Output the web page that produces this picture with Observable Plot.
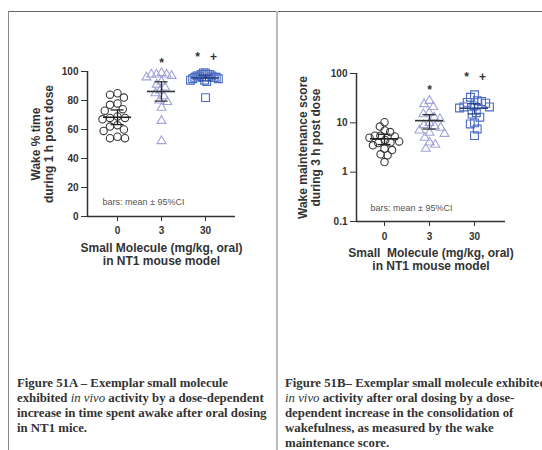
<!DOCTYPE html>
<html><head><meta charset="utf-8">
<script src="https://cdn.jsdelivr.net/npm/d3@7"></script>
<script src="https://cdn.jsdelivr.net/npm/@observablehq/plot@0.6"></script>
<style>
html,body{margin:0;padding:0;background:#fff;}
#page{position:relative;width:542px;height:450px;overflow:hidden;background:#fff;}
.ln{position:absolute;z-index:5;}
.cap{position:absolute;font-family:"Liberation Serif","Times New Roman",serif;font-weight:bold;font-size:12.8px;line-height:15px;color:#333;white-space:nowrap;}
.cap i{font-weight:normal;}
.chart{position:absolute;top:0;}
</style></head>
<body>
<div id="page">
  <div class="ln" style="left:8px;top:11px;width:534px;height:1px;background:#666"></div>
  <div class="ln" style="left:8px;top:11px;width:1px;height:439px;background:#888"></div>
  <div class="ln" style="left:276px;top:11px;width:2px;height:439px;background:#bbb"></div>
  <div id="chartA" class="chart" style="left:0;width:276px"></div>
  <div id="chartB" class="chart" style="left:276px;width:266px"></div>
  <div class="cap" style="left:17px;top:376px">Figure 51A – Exemplar small molecule<br>exhibited <i>in vivo</i> activity by a dose-dependent<br>increase in time spent awake after oral dosing<br>in NT1 mice.</div>
  <div class="cap" style="left:285px;top:376px">Figure 51B– Exemplar small molecule exhibited<br><i>in vivo</i> activity after oral dosing by a dose-<br>dependent increase in the consolidation of<br>wakefulness, as measured by the wake<br>maintenance score.</div>
</div>
<script>
// ---------- data ----------
const doses = ["0", "3", "30"];
// Panel A: Wake % time during 1 h post dose
const wakeTime0  = [85, 84, 82, 78, 77, 74, 73, 69, 68, 68, 67, 63, 62, 60, 59, 55, 54, 54];
const wakeTime3  = [99, 98, 98, 98, 97, 96, 93, 91, 89, 87, 85, 83, 80, 79, 75, 66, 52];
const wakeTime30 = [99, 99, 98, 98, 98, 97, 97, 97, 96, 96, 96, 95, 95, 94, 94, 93, 82];
// Panel B: Wake maintenance score during 3 h post dose
const wms0  = [10.3, 8.4, 7.0, 6.5, 5.5, 5.5, 5.3, 5.0, 4.5, 4.2, 4.0, 3.9, 3.5, 3.0, 2.8, 2.3, 2.2, 1.6];
const wms3  = [28, 24, 21, 16, 15, 13, 12, 10, 9, 8.5, 8, 7, 6.3, 6, 5, 4, 3.6, 3];
const wms30 = [37, 33, 28, 27, 26, 25, 22, 21, 21, 20, 16, 15, 13, 10, 9.5, 7.5, 5.5];
const yTicksA = [0, 20, 40, 60, 80, 100];
const yTicksB = [0.1, 1, 10, 100];
const yTickLabelsB = ["0.1", "1", "10", "100"];
// significance marks
const sigDose = ["3", "30", "30"];
const sigText = ["*", "*", "+"];
const sigA = [106, 110, 110];
const sigB = [46, 86, 86];

const yTitleA = "Wake % time\nduring 1 h post dose";
const yTitleB = "Wake maintenance score\nduring 3 h post dose";
const xTitleA = "Small Molecule (mg/kg, oral)\nin NT1 mouse model";
const xTitleB = "Small \u00a0Molecule (mg/kg, oral)\nin NT1 mouse model";
const note = "bars: mean ± 95%CI";

// ---------- styles ----------
const symbols = ["circle", "triangle", "square"];
const strokes = ["#3a3a3a", "#a3a3d8", "#4a6cc2"];
const radii = [3.7, 3.3, 4.4];
const barColors = ["#222", "#333", "#24408a"];
const spreadLimit = 15;

function tCrit(df) {
  const z = 1.959964;
  return z + (z**3 + z) / (4*df) + (5*z**5 + 16*z**3 + 3*z) / (96*df*df);
}
function beeswarm(pys, diameter, limit) {
  const order = d3.range(pys.length).sort((a, b) => pys[a] - pys[b]);
  const placed = [], out = new Array(pys.length);
  for (const i of order) {
    const y = pys[i];
    const cands = [0];
    for (const p of placed) {
      const dy = Math.abs(p.y - y);
      if (dy < diameter) { const w = Math.sqrt(diameter*diameter - dy*dy); cands.push(p.x + w, p.x - w); }
    }
    cands.sort((a, b) => Math.abs(a) - Math.abs(b) || a - b);
    let x = 0;
    for (const c of cands) {
      if (placed.every(p => (p.x - c)**2 + (p.y - y)**2 >= diameter*diameter - 1e-6)) { x = c; break; }
    }
    placed.push({x, y}); out[i] = x;
  }
  const m = d3.max(out, Math.abs);
  return m > limit ? out.map(x => x * limit / m) : out;
}

function panel(cfg) {
  const {groups, yOpts, width, height, mL, mR, mT, mB, step, firstGap, lastGap, sigY, yTitle, xTitle, titleDx, noteDx, noteDy} = cfg;
  const yRange = [height - mB, mT];
  const ys = Plot.scale({y: {...yOpts, range: yRange}});
  const xDomain = [-firstGap/step, 2 + lastGap/step];
  const rows = [], stats = [];
  groups.forEach((vals, g) => {
    const offs = beeswarm(vals.map(v => ys.apply(v)), 8, spreadLimit);
    vals.forEach((v, i) => rows.push({g, v, x: g + offs[i]/step}));
    const n = vals.length, m = d3.mean(vals), h = tCrit(n - 1) * d3.deviation(vals) / Math.sqrt(n);
    stats.push({g, mean: m, lo: m - h, hi: m + h});
  });
  const sig = sigText.map((t, i) => ({t, g: doses.indexOf(sigDose[i]), y: sigY[i]}));
  sig.forEach(s => {
    const same = sig.filter(o => o.g === s.g);
    const k = same.indexOf(s);
    s.x = s.g + ((k - (same.length - 1)/2) * 16) / step;
  });
  const marks = [
    Plot.ruleY([yOpts.domain[0]], {stroke: "#333", strokeWidth: 1.5}),
    Plot.ruleX([xDomain[0]], {stroke: "#333", strokeWidth: 1.5}),
  ];
  groups.forEach((vals, g) => {
    marks.push(Plot.dot(rows.filter(d => d.g === g), {x: "x", y: "v", symbol: symbols[g], r: radii[g], stroke: strokes[g], fill: "none", strokeWidth: 1.1}));
  });
  stats.forEach(s => {
    const c = barColors[s.g];
    marks.push(
      Plot.ruleY([s], {y: "mean", x1: d => d.g - 14/step, x2: d => d.g + 14/step, stroke: c, strokeWidth: 1.6}),
      Plot.ruleX([s], {x: "g", y1: "lo", y2: "hi", stroke: c, strokeWidth: 1.3}),
      Plot.ruleY([s], {y: "lo", x1: d => d.g - 6.5/step, x2: d => d.g + 6.5/step, stroke: c, strokeWidth: 1.3}),
      Plot.ruleY([s], {y: "hi", x1: d => d.g - 6.5/step, x2: d => d.g + 6.5/step, stroke: c, strokeWidth: 1.3})
    );
  });
  marks.push(
    Plot.text(sig, {x: "x", y: "y", text: "t", fontSize: 12, fontWeight: "bold", fill: "#333"}),
    Plot.text([note], {frameAnchor: "bottom-left", text: d => d, textAnchor: "start", lineAnchor: "middle", dx: noteDx, dy: noteDy, fontSize: 9, fontWeight: "normal", fill: "#555"}),
    Plot.text([yTitle], {frameAnchor: "left", text: d => d, rotate: -90, dx: titleDx, fontSize: 12, lineHeight: 1.05, textAnchor: "middle", lineAnchor: "middle", fill: "#333"}),
    Plot.text([xTitle], {frameAnchor: "bottom", text: d => d, dy: cfg.xTitleDy, fontSize: 12, lineHeight: 1.05, textAnchor: "middle", lineAnchor: "middle", fill: "#333"})
  );
  return Plot.plot({
    width, height, marginLeft: mL, marginRight: mR, marginTop: mT, marginBottom: mB,
    style: {background: "none", fontFamily: "'Liberation Sans', Arial, sans-serif", fontSize: "10px", fontWeight: "bold", color: "#333", overflow: "visible"},
    x: {domain: xDomain, ticks: [0, 1, 2], tickFormat: i => doses[i], tickSize: 5, tickPadding: cfg.xPad, label: null},
    y: {...yOpts, label: null, tickSize: 6, tickPadding: 3},
    marks
  });
}

document.getElementById("chartA").append(panel({
  groups: [wakeTime0, wakeTime3, wakeTime30],
  yOpts: {type: "linear", domain: [0, 100], ticks: yTicksA},
  width: 276, height: 280, mL: 87, mR: 41, mT: 71, mB: 64,
  step: 44, firstGap: 30, lastGap: 30, sigY: sigA,
  yTitle: yTitleA, xTitle: xTitleA, titleDx: -45, noteDx: 15, noteDy: -14, xPad: 5, xTitleDy: 38
}));
document.getElementById("chartB").append(panel({
  groups: [wms0, wms3, wms30],
  yOpts: {type: "log", domain: [0.1, 100], ticks: yTicksB, tickFormat: d => yTickLabelsB[yTicksB.indexOf(d)]},
  width: 266, height: 280, mL: 80, mR: 37, mT: 73, mB: 59,
  step: 45, firstGap: 28, lastGap: 31, sigY: sigB,
  yTitle: yTitleB, xTitle: xTitleB, titleDx: -47, noteDx: 14, noteDy: -13, xPad: 6, xTitleDy: 38
}));
</script>
</body></html>
